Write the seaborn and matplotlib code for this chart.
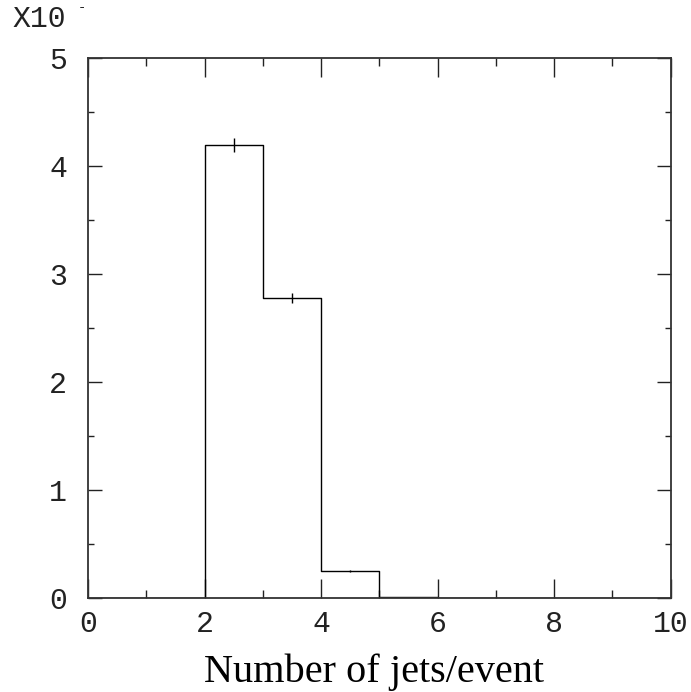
import matplotlib
matplotlib.use("Agg")
import matplotlib.pyplot as plt
import seaborn as sns
import numpy as np
import pandas as pd
from matplotlib.ticker import MultipleLocator

sns.set_style("white")

bin_edges = [0, 1, 2, 3, 4, 5, 6, 7, 8, 9, 10]
bin_centers = [0.5, 1.5, 2.5, 3.5, 4.5, 5.5, 6.5, 7.5, 8.5, 9.5]
counts = [0.0, 0.0, 4.2, 2.78, 0.25, 0.006, 0.0, 0.0, 0.0, 0.0]
errors = [0.0, 0.0, 0.065, 0.05, 0.012, 0.002, 0.0, 0.0, 0.0, 0.0]

df = pd.DataFrame({"x": bin_centers, "w": counts})

W, H = 691, 692
L, R, T, B = 88, 670.5, 58.3, 598
fig = plt.figure(figsize=(W/100, H/100), dpi=100)
ax = fig.add_axes([L/W, 1-B/H, (R-L)/W, (B-T)/H])

sns.histplot(data=df, x="x", weights="w", bins=bin_edges, element="step",
             fill=False, color="black", linewidth=1.0, ax=ax)

err_x = [c for c, e in zip(bin_centers, errors) if e > 0]
err_y = [v for v, e in zip(counts, errors) if e > 0]
err_e = [e for e in errors if e > 0]
ax.errorbar(err_x, err_y, yerr=err_e, fmt="none", ecolor="black",
            elinewidth=1.0, capsize=0)

ax.set_xlim(0, 10)
ax.set_ylim(0, 5)
ax.xaxis.set_major_locator(MultipleLocator(2))
ax.xaxis.set_minor_locator(MultipleLocator(1))
ax.yaxis.set_major_locator(MultipleLocator(1))
ax.yaxis.set_minor_locator(MultipleLocator(0.5))

ax.tick_params(axis="x", which="major", direction="in", length=19*0.72,
               width=1.0, top=True, bottom=True, pad=9, color="#222222")
ax.tick_params(axis="x", which="minor", direction="in", length=8*0.72,
               width=1.0, top=True, bottom=True, color="#222222")
ax.tick_params(axis="y", which="major", direction="in", length=14*0.72,
               width=1.0, left=True, right=True, pad=15, color="#222222")
ax.tick_params(axis="y", which="minor", direction="in", length=6*0.72,
               width=1.0, left=True, right=True, color="#222222")

for lab in ax.get_xticklabels() + ax.get_yticklabels():
    lab.set_fontfamily("Liberation Mono")
    lab.set_fontsize(21.5)
    lab.set_color("#222222")

for sp in ax.spines.values():
    sp.set_visible(True)
    sp.set_color("#333333")
    sp.set_linewidth(1.3)

ax.set_ylabel("")
ax.set_xlabel("Number of jets/event", fontfamily="Liberation Serif",
              fontsize=29, color="black")
ax.xaxis.label.set_va("baseline")
ax.xaxis.set_label_coords((374-L)/(R-L), -(682-B)/(B-T))

fig.text(12/W, 1-19/H, "X10", fontfamily="Liberation Mono", fontsize=21.5,
         va="center", ha="left", color="#222222")
fig.text(78/W, 1-7/H, "-", fontfamily="Liberation Mono", fontsize=10,
         va="center", ha="left", color="#222222")

fig.savefig("out.png", dpi=100)
